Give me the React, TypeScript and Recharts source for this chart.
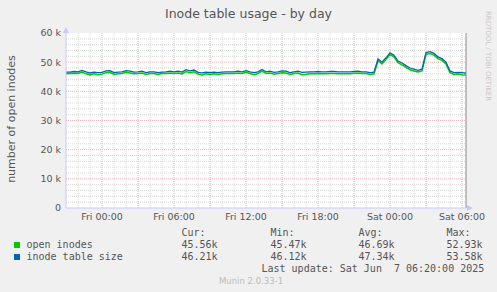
import React from 'react';
import { LineChart, Line, XAxis, YAxis, CartesianGrid, ReferenceLine } from 'recharts';

// samples every 20 minutes, hours counted from Thu 21:00
const hours = Array.from({ length: 101 }, (_, i) => i / 3);

const tableSize = [
  46.6, 46.6, 46.8, 46.7, 47.2, 46.7, 46.3, 46.6, 46.4, 46.5,
  47.0, 47.1, 46.4, 46.6, 46.7, 47.1, 46.9, 46.6, 46.7, 46.9,
  46.4, 46.7, 46.7, 46.4, 46.6, 46.7, 46.9, 46.7, 46.9, 46.6,
  47.4, 47.0, 47.3, 46.5, 46.3, 46.6, 46.4, 46.6, 46.4, 46.6,
  46.7, 46.7, 46.7, 46.9, 46.7, 47.1, 46.7, 46.4, 46.7, 47.5,
  46.7, 46.9, 46.5, 46.7, 47.0, 46.9, 46.4, 46.7, 46.9, 46.5,
  46.6, 46.7, 46.7, 46.8, 46.7, 46.7, 46.8, 46.8, 46.7, 46.7,
  46.7, 46.7, 46.8, 46.9, 46.7, 46.7, 46.4, 46.6, 51.1, 50.0,
  51.5, 53.2, 52.4, 50.4, 49.7, 48.8, 48.0, 47.6, 47.2, 47.6,
  53.3, 53.58, 53.0, 51.8, 51.2, 50.0, 47.0, 46.4, 46.5, 46.4,
  46.21,
];

const openInodes = [
  46.0, 46.1, 46.2, 46.1, 46.6, 46.0, 45.6, 46.0, 45.7, 45.9,
  46.4, 46.5, 45.8, 46.0, 46.1, 46.5, 46.3, 46.0, 46.1, 46.3,
  45.8, 46.1, 46.1, 45.8, 46.1, 46.1, 46.3, 46.1, 46.3, 46.0,
  46.8, 46.4, 46.7, 45.9, 45.6, 46.0, 45.8, 46.0, 45.8, 46.0,
  46.1, 46.1, 46.1, 46.3, 46.1, 46.5, 46.1, 45.7, 46.1, 46.9,
  46.1, 46.3, 45.9, 46.1, 46.4, 46.3, 45.8, 46.1, 46.3, 45.7,
  45.8, 46.1, 46.0, 46.1, 46.0, 46.0, 46.1, 46.1, 46.0, 46.0,
  46.0, 46.0, 46.2, 46.3, 46.1, 46.1, 45.8, 46.0, 50.5, 49.4,
  50.9, 52.6, 51.8, 49.8, 49.1, 48.2, 47.4, 47.0, 46.6, 47.0,
  52.7, 52.93, 52.4, 51.2, 50.6, 49.4, 46.4, 45.8, 45.9, 45.7,
  45.56,
];

const xTicks = [3, 9, 15, 21, 27, 33];
const xTickLabels = ['Fri 00:00', 'Fri 06:00', 'Fri 12:00', 'Fri 18:00', 'Sat 00:00', 'Sat 06:00'];
const yTicks = [0, 10000, 20000, 30000, 40000, 50000, 60000];
const minorY = Array.from({ length: 29 }, (_, i) => (i + 1) * 2000).filter((v) => v % 10000 !== 0);
const minorX = Array.from({ length: 33 }, (_, i) => i + 1).filter((h) => h % 3 !== 0);
const majorX = [3, 6, 9, 12, 15, 18, 21, 24, 27, 30, 33];
const majorY = [10000, 20000, 30000, 40000, 50000];

const legendRows = [
  { name: 'open inodes', color: '#00cc00', cur: '45.56k', min: '45.47k', avg: '46.69k', max: '52.93k' },
  { name: 'inode table size', color: '#0066b3', cur: '46.21k', min: '46.12k', avg: '47.34k', max: '53.58k' },
];

const data = hours.map((h, i) => ({
  h,
  open: openInodes[i] * 1000,
  size: tableSize[i] * 1000,
}));

const sans = '"DejaVu Sans", sans-serif';
const mono = '"DejaVu Sans Mono", monospace';
const textColor = '#555';

const abs = (left: number, top: number, extra: React.CSSProperties = {}): React.CSSProperties => ({
  position: 'absolute',
  left,
  top,
  whiteSpace: 'pre',
  lineHeight: '12px',
  ...extra,
});

const cols = [181.5, 270.5, 358.5, 446.5];

export default function App() {
  return (
    <div style={{ position: 'fixed', left: 0, top: 0, width: 497, height: 292, background: '#f0f0f0', overflow: 'hidden', fontFamily: sans, color: textColor }}>
      <div style={{ position: 'absolute', left: 0, top: 6, width: 497, textAlign: 'center', fontSize: 12.5 }}>
        Inode table usage - by day
      </div>
      <div style={{ position: 'absolute', left: 11, top: 119, fontSize: 11, whiteSpace: 'pre', transform: 'translate(-50%, -50%) rotate(-90deg)' }}>
        number of open inodes
      </div>
      <div style={{ position: 'absolute', left: 488, top: 56, fontSize: 7, color: '#c8c8c8', whiteSpace: 'pre', transform: 'translate(-50%, -50%) rotate(90deg)' }}>
        RRDTOOL / TOBI OETIKER
      </div>
      <LineChart width={497} height={292} data={data} margin={{ top: 33, right: 31, bottom: 64, left: 0 }}>
        <CartesianGrid fill="#ffffff" stroke="#d8d8d8" strokeDasharray="1 1" horizontalValues={minorY} verticalValues={minorX} />
        <CartesianGrid fill="none" stroke="#f2b4b4" strokeDasharray="1 1" horizontalValues={majorY} verticalValues={majorX} />
        <XAxis
          dataKey="h"
          type="number"
          domain={[0, 100 / 3]}
          ticks={xTicks}
          tickFormatter={(v: number) => xTickLabels[xTicks.indexOf(v)] ?? ''}
          height={20}
          tickSize={0}
          tickMargin={5}
          axisLine={{ stroke: '#c8c8ff' }}
          tick={{ fill: textColor, fontSize: 9.5, fontFamily: sans }}
          interval={0}
        />
        <YAxis
          type="number"
          domain={[0, 60000]}
          ticks={yTicks}
          tickFormatter={(v: number) => (v === 0 ? '0' : `${v / 1000} k`)}
          width={66}
          tickSize={0}
          tickMargin={5}
          axisLine={{ stroke: '#c8c8ff' }}
          tick={{ fill: textColor, fontSize: 9.5, fontFamily: sans }}
          interval={0}
        />
        <ReferenceLine x={100 / 3} stroke="#888" strokeWidth={1} />
        <Line dataKey="open" stroke="#00cc00" strokeWidth={1.5} dot={false} isAnimationActive={false} type="linear" />
        <Line dataKey="size" stroke="#0066b3" strokeWidth={1.3} dot={false} isAnimationActive={false} type="linear" />
      </LineChart>
      <svg width={497} height={292} style={{ position: 'absolute', left: 0, top: 0, pointerEvents: 'none' }}>
        <polygon points="63,33 69,33 66,27" fill="#c8c8ff" />
        <polygon points="467,205 467,211 473,208" fill="#c8c8ff" />
      </svg>
      <div style={{ fontFamily: mono, fontSize: 10 }}>
        {['Cur:', 'Min:', 'Avg:', 'Max:'].map((t, i) => (
          <div key={t} style={abs(cols[i], 227)}>{t}</div>
        ))}
        {legendRows.map((r, ri) => {
          const top = 239 + ri * 12;
          return (
            <React.Fragment key={r.name}>
              <div style={{ position: 'absolute', left: 14, top: top + 3, width: 6, height: 6, background: r.color }} />
              <div style={abs(26.5, top)}>{r.name}</div>
              {[r.cur, r.min, r.avg, r.max].map((v, ci) => (
                <div key={ci} style={abs(cols[ci], top)}>{v}</div>
              ))}
            </React.Fragment>
          );
        })}
        <div style={abs(261.5, 263)}>{'Last update: Sat Jun  7 06:20:00 2025'}</div>
      </div>
      <div style={{ position: 'absolute', left: 219, top: 276, fontSize: 8.5, color: '#bbb', whiteSpace: 'pre' }}>
        Munin 2.0.33-1
      </div>
    </div>
  );
}
